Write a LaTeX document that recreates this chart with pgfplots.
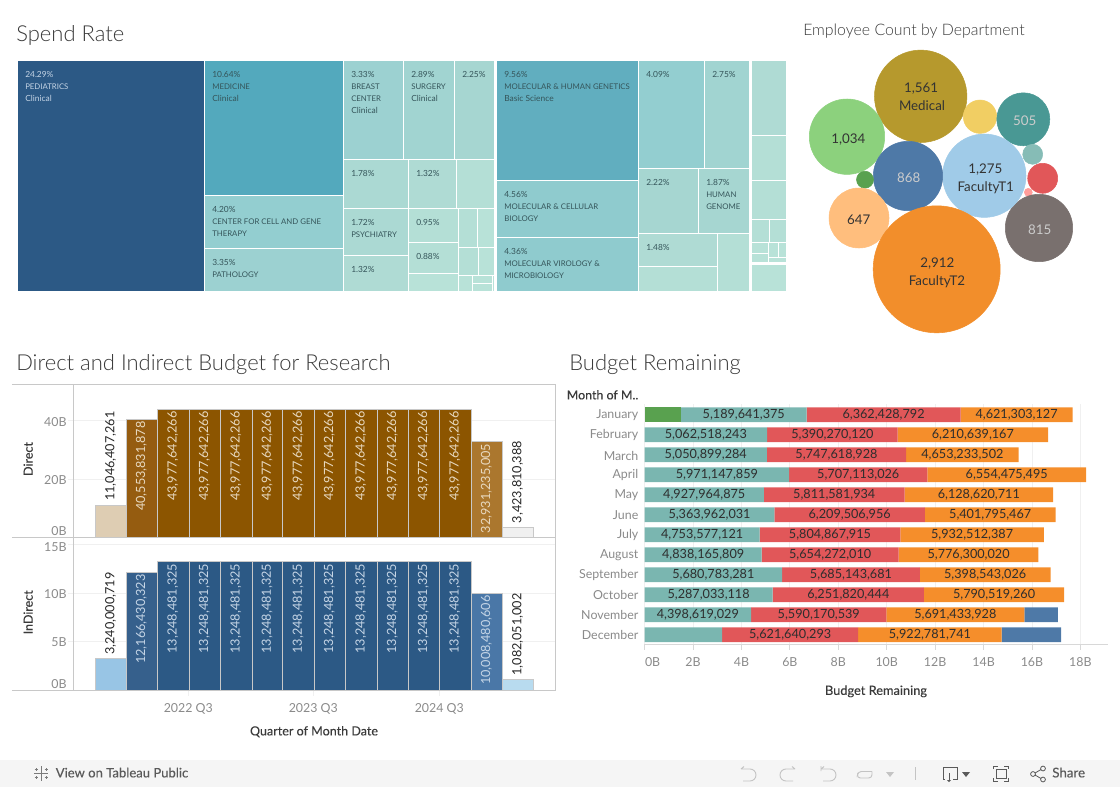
\documentclass[border=0pt]{standalone}
\usepackage{fontspec}
\usepackage{pgfplots}
\usepackage{pgfplotstable}
\pgfplotsset{compat=1.18}
\setmainfont{Lato}
\newfontfamily\medfont[FakeBold=0.25]{Lato}
\newfontfamily\lightfont{Lato Light}

% tableau colours
\definecolor{tA}{HTML}{2C5985}\definecolor{tB}{HTML}{53A9BD}\definecolor{tC}{HTML}{61AEBF}
\definecolor{tD}{HTML}{8FCBCE}\definecolor{tE}{HTML}{93CED0}\definecolor{tF}{HTML}{9CD1D1}
\definecolor{tG}{HTML}{A1D4D1}\definecolor{tH}{HTML}{A6D6D1}\definecolor{tI}{HTML}{ABD9D3}
\definecolor{tJ}{HTML}{AFDBD4}\definecolor{tK}{HTML}{B4DFD6}\definecolor{tL}{HTML}{B8E2D8}
\definecolor{frame}{HTML}{C8C8C8}\definecolor{gridc}{HTML}{F0F0F0}
\definecolor{ticktxt}{HTML}{8A8A8A}\definecolor{titletxt}{HTML}{3A3A3A}\definecolor{labtxt}{HTML}{3A3A3A}
\definecolor{mapdark}{HTML}{35555A}\definecolor{mapfoot}{HTML}{F5F5F5}\definecolor{foottxt}{HTML}{5A5A5A}
\definecolor{footicon}{HTML}{C4C4C4}
\definecolor{teal}{HTML}{7AB6B0}\definecolor{red}{HTML}{E15759}\definecolor{orange}{HTML}{F58E2B}
\definecolor{blue}{HTML}{4E79A7}\definecolor{green}{HTML}{59A14F}
\definecolor{brownA}{HTML}{8C5500}\definecolor{brownB}{HTML}{955C10}\definecolor{brownC}{HTML}{AB772E}
\definecolor{brownD}{HTML}{DECDB3}\definecolor{brownE}{HTML}{F0F0F0}
\definecolor{navyA}{HTML}{2C5985}\definecolor{navyB}{HTML}{36608C}\definecolor{navyC}{HTML}{4A77A7}
\definecolor{navyD}{HTML}{98C5E5}\definecolor{navyE}{HTML}{B8DBEF}
\definecolor{brownlab}{HTML}{E8D9C0}\definecolor{navylab}{HTML}{C5D5E6}
% bubble colours, named by their hex
\def\hx#1{\definecolor{#1}{HTML}{#1}}
\hx{B6992D}\hx{8CD17D}\hx{F1CE63}\hx{499894}\hx{86BCB6}\hx{E15759}\hx{FF9D9A}\hx{79706E}\hx{A0CBE8}\hx{4E79A7}\hx{59A14F}\hx{FFBE7D}\hx{F28E2B}

\pgfplotstableread{
row green teal red orange blue
11 1.5 5.190 6.362 4.621 0
10 0 5.063 5.390 6.211 0
9 0 5.051 5.748 4.653 0
8 0 5.971 5.707 6.554 0
7 0 4.928 5.812 6.129 0
6 0 5.364 6.210 5.402 0
5 0 4.754 5.805 5.933 0
4 0 4.838 5.654 5.776 0
3 0 5.681 5.685 5.399 0
2 0 5.287 6.252 5.791 0
1 0 4.399 5.590 5.691 1.39
0 0 3.2 5.622 5.923 2.455
}\budget

% treemap cell: x0 y0 x1 y1 colour
\newcommand\cell[5]{\addplot[fill=#5,draw=none,forget plot] coordinates {(#1,#2)(#3,#2)(#3,#4)(#1,#4)} --cycle;}
% treemap text, the capitals a bit smaller
\newcommand\tl[4][mapdark]{\node[anchor=mid west,inner sep=0,font=\fontsize{6.3pt}{7pt}\selectfont,text=#1] at (axis cs:#2,#3) {#4};}
\newcommand\tc[4][mapdark]{\node[anchor=mid west,inner sep=0,font=\fontsize{5.85pt}{7pt}\selectfont,text=#1] at (axis cs:#2,#3) {#4};}
% bubble: x y r colour
\newcommand\bub[4]{\addplot[only marks,mark=*,mark size=#3*0.75pt,color=#4,mark options={draw=none,fill=#4},forget plot] coordinates {(#1,#2)};}
\newcommand\bl[4][black!80]{\node[yshift=-1pt,anchor=mid,inner sep=0,font=\fontsize{10pt}{11pt}\selectfont,text=#1] at (axis cs:#2,#3) {#4};}
% rotated bar labels
\newcommand\vin[4]{\node[yshift=-1.5pt,rotate=90,anchor=mid east,inner sep=0,font=\fontsize{9.5pt}{10pt}\selectfont,text=#4] at (axis cs:#1,#2) {#3};}
\newcommand\vout[3]{\node[yshift=3pt,rotate=90,anchor=mid west,inner sep=0,font=\fontsize{9.5pt}{10pt}\selectfont,text=black!85] at (axis cs:#1,#2) {#3};}
% budget labels
\newcommand\bv[3]{\node[yshift=-.6pt,anchor=mid,inner sep=0,font=\fontsize{9.5pt}{10pt}\selectfont,text=black!82] at (axis cs:#1,#2) {#3};}

\pgfplotsset{
  sheet/.style={at={(0pt,0pt)},anchor=north west,scale only axis,width=840pt,height=590.25pt,
    xmin=0,xmax=1120,ymin=0,ymax=787,y dir=reverse,hide axis,clip=false},
  budgetbox/.style={at={(644.6*.75pt,-404*.75pt)},anchor=north west,scale only axis,
    width=347.2pt,height=180.2pt,xmin=0,xmax=19.12,ymin=-0.48,ymax=11.535,clip=false},
  pane/.style={
    scale only axis,anchor=north west,
    width=361.65pt,
    xmin=73.5,xmax=555.7,ymin=0,
    axis line style={draw=frame,line width=.8pt},
    ymajorgrids,grid style={gridc,line width=.7pt},
    tick style={gridc,line width=.7pt},tick align=outside,
    major tick length=4pt,
    xtick pos=bottom,ytick pos=left,
    clip=false,
    every tick label/.append style={font=\fontsize{9.3pt}{10pt}\selectfont,text=ticktxt},
    yticklabel style={anchor=east,inner xsep=0,xshift=-1pt,yshift=-.6pt},
  },
  bx/.style={ybar interval,draw=frame,line width=.7pt,fill=#1,forget plot},
}

\begin{document}
\begin{tikzpicture}
\path[use as bounding box] (0,0) rectangle (840pt,-590.25pt);

% sheet in reference pixels: treemap, bubbles, titles, footer
\begin{axis}[sheet]
\cell{0}{760}{1120}{787}{mapfoot}

% clinical group
\cell{18}{61}{204}{291}{tA}
\cell{205}{61}{343}{195}{tB}
\cell{205}{196}{343}{248}{tE}
\cell{205}{249}{343}{291}{tF}
\cell{344}{61}{403}{159}{tF}
\cell{404}{61}{454}{159}{tG}
\cell{455}{61}{494}{159}{tH}
\cell{344}{160}{408}{208}{tI}
\cell{344}{209}{408}{255}{tI}
\cell{344}{256}{408}{291}{tJ}
\cell{409}{160}{456}{208}{tJ}
\cell{457}{160}{494}{208}{tK}
\cell{409}{209}{458}{242}{tK}
\cell{409}{243}{458}{273}{tK}
\cell{409}{274}{458}{291}{tL}
\cell{459}{209}{477}{247}{tK}
\cell{478}{209}{494}{247}{tL}
\cell{459}{248}{478}{275}{tK}
\cell{479}{248}{494}{275}{tL}
\cell{459}{276}{472}{291}{tL}
\cell{473}{276}{492}{283}{tL}
\cell{473}{284}{492}{291}{tL}
\cell{493}{276}{494}{291}{tL}
% basic science group
\cell{497}{61}{638}{180}{tC}
\cell{497}{181}{638}{237}{tD}
\cell{497}{238}{638}{291}{tD}
\cell{639}{61}{704}{168}{tE}
\cell{705}{61}{749}{168}{tG}
\cell{639}{169}{698}{233}{tH}
\cell{699}{169}{749}{233}{tH}
\cell{639}{234}{717}{266}{tJ}
\cell{639}{267}{717}{291}{tK}
\cell{718}{234}{749}{291}{tK}
% third group
\cell{752}{61}{786}{135}{tJ}
\cell{752}{136}{786}{180}{tK}
\cell{752}{181}{786}{219}{tK}
\cell{752}{220}{769}{242}{tK}
\cell{770}{220}{786}{242}{tK}
\cell{752}{243}{768}{253}{tL}
\cell{769}{243}{778}{257}{tL}
\cell{779}{243}{786}{257}{tL}
\cell{752}{254}{768}{262}{tL}
\cell{769}{258}{786}{262}{tL}
\cell{752}{265}{786}{291}{tL}

\tl[navylab]{25}{74}{24.29\%}\tc[navylab]{25}{86}{PEDIATRICS}\tl[navylab]{25}{98}{Clinical}
\tl{212}{74}{10.64\%}\tc{212}{86}{MEDICINE}\tl{212}{98}{Clinical}
\tl{212}{209}{4.20\%}\tc{212}{221}{CENTER FOR CELL AND GENE}\tc{212}{233}{THERAPY}
\tl{212}{262}{3.35\%}\tc{212}{274}{PATHOLOGY}
\tl{351}{74}{3.33\%}\tc{351}{86}{BREAST}\tc{351}{98}{CENTER}\tl{351}{110}{Clinical}
\tl{411}{74}{2.89\%}\tc{411}{86}{SURGERY}\tl{411}{98}{Clinical}
\tl{462}{74}{2.25\%}
\tl{351}{173}{1.78\%}\tl{416}{173}{1.32\%}
\tl{351}{222}{1.72\%}\tc{351}{234}{PSYCHIATRY}
\tl{351}{269}{1.32\%}
\tl{416}{222}{0.95\%}\tl{416}{256}{0.88\%}
\tl{504}{74}{9.56\%}\tc{504}{86}{MOLECULAR \& HUMAN GENETICS}\tl{504}{98}{Basic Science}
\tl{504}{194}{4.56\%}\tc{504}{206}{MOLECULAR \& CELLULAR}\tc{504}{218}{BIOLOGY}
\tl{504}{251}{4.36\%}\tc{504}{263}{MOLECULAR VIROLOGY \&}\tc{504}{275}{MICROBIOLOGY}
\tl{646}{74}{4.09\%}\tl{712}{74}{2.75\%}
\tl{646}{182}{2.22\%}
\tl{706}{182}{1.87\%}\tc{706}{194}{HUMAN}\tc{706}{206}{GENOME}
\tl{646}{247}{1.48\%}

% employee bubbles
\bub{920.7}{96.3}{46.2}{B6992D}
\bub{847}{136.7}{37.7}{8CD17D}
\bub{980}{116.7}{16.7}{F1CE63}
\bub{1023.3}{119.3}{26.5}{499894}
\bub{1032.7}{154.3}{10}{86BCB6}
\bub{1042.7}{178.3}{15}{E15759}
\bub{1028.3}{192.3}{4}{FF9D9A}
\bub{1039}{228}{33.7}{79706E}
\bub{984.3}{175.7}{41.7}{A0CBE8}
\bub{908}{176}{34.7}{4E79A7}
\bub{865}{179.7}{8.5}{59A14F}
\bub{859}{218}{30}{FFBE7D}
\bub{936.7}{269.3}{63.5}{F28E2B}

% titles
\node[anchor=mid west,inner sep=0,font=\lightfont\fontsize{16.5pt}{17pt}\selectfont,text=titletxt] at (axis cs:16,38) {Spend Rate};
\node[anchor=mid west,inner sep=0,font=\lightfont\fontsize{16.5pt}{17pt}\selectfont,text=titletxt] at (axis cs:16,367.5) {Direct and Indirect Budget for Research};
\node[anchor=mid west,inner sep=0,font=\lightfont\fontsize{16.5pt}{17pt}\selectfont,text=titletxt] at (axis cs:569,367.5) {Budget Remaining};
\node[anchor=mid west,inner sep=0,font=\lightfont\fontsize{11.9pt}{12pt}\selectfont,text=titletxt] at (axis cs:803,32.5) {Employee Count by Department};

% axis titles
\node[rotate=90,anchor=mid,inner sep=0,font=\medfont\fontsize{9.4pt}{10pt}\selectfont,text=labtxt] at (axis cs:29.3,459) {Direct};
\node[rotate=90,anchor=mid,inner sep=0,font=\medfont\fontsize{9.4pt}{10pt}\selectfont,text=labtxt] at (axis cs:29.3,612.3) {InDirect};
\node[anchor=mid,inner sep=0,font=\medfont\fontsize{9.4pt}{10pt}\selectfont,text=labtxt] at (axis cs:314,732) {Quarter of Month Date};
\node[anchor=mid,inner sep=0,font=\medfont\fontsize{9.6pt}{10pt}\selectfont,text=labtxt] at (axis cs:876,691.5) {Budget Remaining};
\node[anchor=mid east,inner sep=0,font=\medfont\fontsize{9.3pt}{10pt}\selectfont,text=labtxt] at (axis cs:638.6,396) {Month of M..};

% footer
\node[anchor=mid west,inner sep=0,font=\medfont\fontsize{9.8pt}{10pt}\selectfont,text=foottxt] at (axis cs:55.5,774) {View on Tableau Public};
\node[anchor=mid west,inner sep=0,font=\medfont\fontsize{10pt}{10pt}\selectfont,text=foottxt] at (axis cs:1052,774) {Share};
\draw[foottxt!80,line width=.5pt] (axis cs:41,766)--(axis cs:41,781) (axis cs:34,773.5)--(axis cs:48,773.5)
  (axis cs:36,768)--(axis cs:36,771) (axis cs:46,768)--(axis cs:46,771) (axis cs:36,776)--(axis cs:36,779) (axis cs:46,776)--(axis cs:46,779)
  (axis cs:34.5,769.5)--(axis cs:37.5,769.5) (axis cs:44.5,769.5)--(axis cs:47.5,769.5) (axis cs:34.5,777.5)--(axis cs:37.5,777.5) (axis cs:44.5,777.5)--(axis cs:47.5,777.5);
\draw[footicon,line width=.7pt] (axis cs:915,767)--(axis cs:915,780);
% undo, redo, revert, refresh
\draw[footicon,line width=.7pt] (axis cs:741,769)--(axis cs:750,769) arc (90:-90:4.5pt)--(axis cs:743,781) (axis cs:741,769)--(axis cs:744,766.5);
\draw[footicon,line width=.7pt] (axis cs:795,769)--(axis cs:786,769) arc (90:270:4.5pt)--(axis cs:793,781) (axis cs:795,769)--(axis cs:792,766.5);
\draw[footicon,line width=.7pt] (axis cs:821,769)--(axis cs:830,769) arc (90:-90:4.5pt)--(axis cs:823,781) (axis cs:821,769)--(axis cs:824,766.5) (axis cs:821,766)--(axis cs:821,771);
\draw[footicon,line width=.7pt,rounded corners=2.5pt] (axis cs:872,771.5)--(axis cs:858,771.5)--(axis cs:857,778)--(axis cs:872,778)--(axis cs:872,771.5);
\fill[footicon] (axis cs:886,772)--(axis cs:894,772)--(axis cs:890,777)--cycle;
% download, fit, share
\draw[foottxt,line width=.7pt] (axis cs:945,779)--(axis cs:943,779)--(axis cs:943,767)--(axis cs:957,767)--(axis cs:957,779)--(axis cs:953,779) (axis cs:949,773)--(axis cs:949,780);
\fill[foottxt] (axis cs:947,780)--(axis cs:951,780)--(axis cs:949,782)--cycle;
\fill[foottxt] (axis cs:962,772)--(axis cs:970,772)--(axis cs:966,777)--cycle;
\draw[foottxt,line width=.7pt] (axis cs:996,769) rectangle (axis cs:1006,778);
\draw[foottxt,line width=.7pt] (axis cs:993.5,769)--(axis cs:993.5,766)--(axis cs:998,766) (axis cs:1004,766)--(axis cs:1008.5,766)--(axis cs:1008.5,769) (axis cs:993.5,778)--(axis cs:993.5,781)--(axis cs:998,781) (axis cs:1004,781)--(axis cs:1008.5,781)--(axis cs:1008.5,778);
\draw[foottxt,line width=.6pt] (axis cs:1033,774) circle (1.8pt) (axis cs:1043,768.5) circle (1.8pt) (axis cs:1043,779.5) circle (1.8pt) (axis cs:1035,773)--(axis cs:1041,769.5) (axis cs:1035,775)--(axis cs:1041,778.5);
\end{axis}

% bubble labels go in their own axis, marks are drawn last otherwise
\begin{axis}[sheet]
\bl{921}{87.7}{1,561}\bl{922}{106}{Medical}
\bl{848.3}{139}{1,034}
\bl[white!80!black]{908.7}{177.7}{868}
\bl{985.3}{168.7}{1,275}\bl{985.7}{186.7}{FacultyT1}
\bl[white!80!black]{1024.7}{120.7}{505}
\bl{858.7}{219.3}{647}
\bl[white!80!black]{1039.7}{229.7}{815}
\bl{937.3}{263}{2,912}\bl{937}{281}{FacultyT2}
\end{axis}

% direct budget pane
\begin{axis}[pane,at={(73.5*.75pt,-384.3*.75pt)},height=114.75pt,
  ymax=52.53,xtick=\empty,ytick={0,20,40},
  yticklabels={\raisebox{5.5pt}[\height][\depth]{0B},20B,40B}]
\addplot[bx=brownD] coordinates {(95,11.05)(126.3,11.05)};
\addplot[bx=brownB] coordinates {(126.3,40.55)(157.3,40.55)};
\addplot[bx=brownA] coordinates {(157.3,43.98)(189.3,43.98)(220.3,43.98)(252.3,43.98)(282.5,43.98)(314.3,43.98)(345.3,43.98)(377.3,43.98)(408.3,43.98)(439.3,43.98)(471.3,43.98)};
\addplot[bx=brownC] coordinates {(471.3,32.93)(502.3,32.93)};
\addplot[bx=brownE] coordinates {(502.3,3.42)(533.7,3.42)};
\draw[frame,line width=.8pt] (axis cs:12,0)--(axis cs:73.5,0) (axis cs:12,52.53)--(axis cs:73.5,52.53);
\vout{111}{11.05}{11,046,407,261}
\vin{141.8}{40.55}{40,553,831,878}{brownlab}
\pgfplotsinvokeforeach{173.3,204.8,236.3,267.4,298.4,329.8,361.3,392.8,423.8,455.3}{\vin{#1}{43.98}{43,977,642,266}{brownlab}}
\vin{486.8}{32.93}{32,931,235,005}{brownlab}
\vout{518}{3.42}{3,423,810,388}
\end{axis}

% indirect budget pane
\begin{axis}[pane,at={(73.5*.75pt,-537.3*.75pt)},height=114.75pt,
  ymax=15.76,xtick={188.3,313.3,439.3},xticklabels={2022 Q3,2023 Q3,2024 Q3},
  ytick={0,5,10,15},
  yticklabels={\raisebox{5.5pt}[\height][\depth]{0B},5B,10B,\raisebox{-1.5pt}[\height][\depth]{15B}},
  xticklabel style={yshift=-2.5pt}]
\addplot[bx=navyD] coordinates {(95,3.24)(126.3,3.24)};
\addplot[bx=navyB] coordinates {(126.3,12.17)(157.3,12.17)};
\addplot[bx=navyA] coordinates {(157.3,13.25)(189.3,13.25)(220.3,13.25)(252.3,13.25)(282.5,13.25)(314.3,13.25)(345.3,13.25)(377.3,13.25)(408.3,13.25)(439.3,13.25)(471.3,13.25)};
\addplot[bx=navyC] coordinates {(471.3,10.01)(502.3,10.01)};
\addplot[bx=navyE] coordinates {(502.3,1.08)(533.7,1.08)};
\draw[frame,line width=.8pt] (axis cs:12,0)--(axis cs:73.5,0);
\vout{111}{3.24}{3,240,000,719}
\vin{141.8}{12.17}{12,166,430,323}{navylab}
\pgfplotsinvokeforeach{173.3,204.8,236.3,267.4,298.4,329.8,361.3,392.8,423.8,455.3}{\vin{#1}{13.25}{13,248,481,325}{navylab}}
\vin{486.8}{10.01}{10,008,480,606}{navylab}
\vout{518}{1.08}{1,082,051,002}
\end{axis}

% budget remaining bars
\begin{axis}[budgetbox,
  xbar stacked,bar width=11pt,
  ytick={0,...,11},
  yticklabels={December,November,October,September,August,July,June,May,April,March,February,January},
  xtick={0,2,...,18},
  xticklabels={\hspace{12pt}0B,2B,4B,6B,8B,10B,12B,14B,16B,18B},
  axis x line*=bottom,axis y line*=left,
  x axis line style={draw=gridc!90!black,line width=.7pt,-},
  y axis line style={draw=gridc,line width=.7pt,-},
  xmajorgrids,grid style={gridc,line width=.7pt},
  xtick style={draw=gridc!90!black,line width=.7pt},ytick style={draw=none},
  tick align=outside,major tick length=4pt,
  every tick label/.append style={font=\fontsize{9.3pt}{10pt}\selectfont,text=ticktxt},
  yticklabel style={anchor=east,inner xsep=0,xshift=-.5pt,yshift=-.6pt},
  xticklabel style={yshift=-2.5pt}]
\addplot[fill=green,draw=none] table[x=green,y=row] {\budget};
\addplot[fill=teal,draw=none] table[x=teal,y=row] {\budget};
\addplot[fill=red,draw=none] table[x=red,y=row] {\budget};
\addplot[fill=orange,draw=none] table[x=orange,y=row] {\budget};
\addplot[fill=blue,draw=none] table[x=blue,y=row] {\budget};
\end{axis}

% their labels, stacked bars are drawn last as well
\begin{axis}[budgetbox,hide axis]
\bv{4.095}{11}{5,189,641,375}\bv{9.871}{11}{6,362,428,792}\bv{15.363}{11}{4,621,303,127}
\bv{2.531}{10}{5,062,518,243}\bv{7.758}{10}{5,390,270,120}\bv{13.558}{10}{6,210,639,167}
\bv{2.525}{9}{5,050,899,284}\bv{7.925}{9}{5,747,618,928}\bv{13.125}{9}{4,653,233,502}
\bv{2.986}{8}{5,971,147,859}\bv{8.825}{8}{5,707,113,026}\bv{14.955}{8}{6,554,475,495}
\bv{2.464}{7}{4,927,964,875}\bv{7.834}{7}{5,811,581,934}\bv{13.804}{7}{6,128,620,711}
\bv{2.682}{6}{5,363,962,031}\bv{8.469}{6}{6,209,506,956}\bv{14.274}{6}{5,401,795,467}
\bv{2.377}{5}{4,753,577,121}\bv{7.656}{5}{5,804,867,915}\bv{13.525}{5}{5,932,512,387}
\bv{2.419}{4}{4,838,165,809}\bv{7.665}{4}{5,654,272,010}\bv{13.381}{4}{5,776,300,020}
\bv{2.840}{3}{5,680,783,281}\bv{8.523}{3}{5,685,143,681}\bv{14.065}{3}{5,398,543,026}
\bv{2.644}{2}{5,287,033,118}\bv{8.413}{2}{6,251,820,444}\bv{14.434}{2}{5,790,519,260}
\bv{2.199}{1}{4,398,619,029}\bv{7.194}{1}{5,590,170,539}\bv{12.834}{1}{5,691,433,928}
\bv{6.011}{0}{5,621,640,293}\bv{11.783}{0}{5,922,781,741}
\end{axis}
\end{tikzpicture}
\end{document}
